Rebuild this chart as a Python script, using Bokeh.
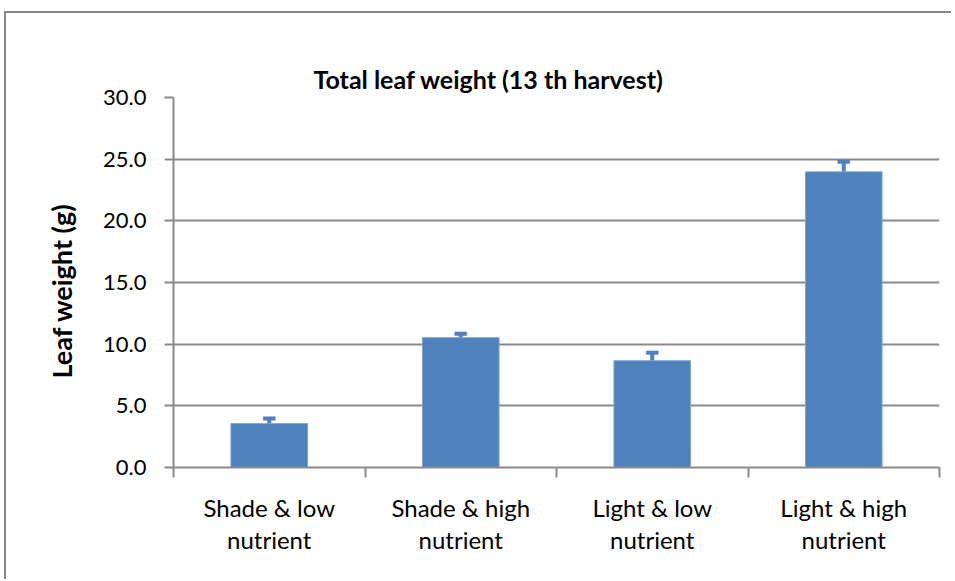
from bokeh.plotting import figure
from bokeh.models import ColumnDataSource, FixedTicker, Range1d, Title, NumeralTickFormatter
from bokeh.embed import file_html
from bokeh.resources import INLINE

# ---- data ----
categories = ["Shade & low\nnutrient", "Shade & high\nnutrient",
              "Light & low\nnutrient", "Light & high\nnutrient"]
leaf_weight = [3.56, 10.53, 8.66, 23.97]
error = [0.41, 0.32, 0.65, 0.83]
y_ticks = [0, 5, 10, 15, 20, 25, 30]
title_text = "Total leaf weight (13 th harvest)"
y_label = "Leaf weight (g)"

FONT = "Lato"
BAR = "#4F81BD"
GRID = "#8a8a8a"

xpos = [i + 0.5 for i in range(len(categories))]
upper = [v + e for v, e in zip(leaf_weight, error)]
lower = [v - e for v, e in zip(leaf_weight, error)]
src = ColumnDataSource(dict(x=xpos, top=leaf_weight, upper=upper, lower=lower))

p = figure(width=947, height=568, output_backend="svg", toolbar_location=None,
           x_range=Range1d(0, len(categories)), y_range=Range1d(y_ticks[0], y_ticks[-1]),
           min_border_left=167, min_border_right=14, min_border_top=84, min_border_bottom=114)
p.styles = {"border-left": "2px solid #878787", "border-top": "2px solid #878787",
            "margin-left": "4px", "margin-top": "11px"}
p.outline_line_color = None
p.background_fill_color = "white"

# title
p.title.text = title_text
p.title.text_font = FONT
p.title.text_font_size = "25px"
p.title.text_font_style = "bold"
p.title.text_color = "black"
p.title.align = "left"
p.title.offset = 140
p.title.standoff = 7

# error bars (drawn first so lower half is hidden by the bars)
p.segment(x0="x", y0="lower", x1="x", y1="upper", source=src, line_color=BAR, line_width=4)
p.rect(x="x", y="upper", width=12, height=3.5, width_units="screen", height_units="screen",
       source=src, fill_color=BAR, line_color=BAR, line_width=0.5)
# bars
p.vbar(x="x", top="top", bottom=0, width=0.4, source=src,
       fill_color=BAR, line_color="#7fa3d1", line_width=1)

# y axis
p.yaxis.ticker = FixedTicker(ticks=y_ticks)
p.yaxis.formatter = NumeralTickFormatter(format="0.0")
p.yaxis.major_label_text_font = FONT
p.yaxis.major_label_text_font_size = "22px"
p.yaxis.major_label_text_color = "black"
p.yaxis.major_label_standoff = 18
p.yaxis.axis_line_color = GRID
p.yaxis.axis_line_width = 2
p.yaxis.major_tick_line_color = GRID
p.yaxis.major_tick_line_width = 2
p.yaxis.major_tick_out = 9
p.yaxis.major_tick_in = 0
p.yaxis.minor_tick_line_color = None

p.ygrid.ticker = FixedTicker(ticks=y_ticks)
p.ygrid.grid_line_color = GRID
p.ygrid.grid_line_width = 2
p.xgrid.grid_line_color = None

# x axis
p.xaxis.ticker = FixedTicker(ticks=xpos, minor_ticks=list(range(len(categories) + 1)))
p.xaxis.major_label_overrides = {x: c for x, c in zip(xpos, categories)}
p.xaxis.major_label_text_font = FONT
p.xaxis.major_label_text_font_size = "24px"
p.xaxis.major_label_text_color = "black"
p.xaxis.major_label_text_line_height = 1.11
p.xaxis.major_label_standoff = 15
p.xaxis.major_tick_line_color = None
p.xaxis.minor_tick_line_color = GRID
p.xaxis.minor_tick_line_width = 2
p.xaxis.minor_tick_out = 10
p.xaxis.minor_tick_in = 0
p.xaxis.axis_line_color = GRID
p.xaxis.axis_line_width = 2

# y-axis label as a vertical title
ylab = Title(text=y_label, align="left", offset=89, standoff=46,
             text_font=FONT, text_font_size="27px", text_font_style="bold", text_color="black")
p.add_layout(ylab, "left")

open("out.html", "w").write(file_html(p, INLINE))
